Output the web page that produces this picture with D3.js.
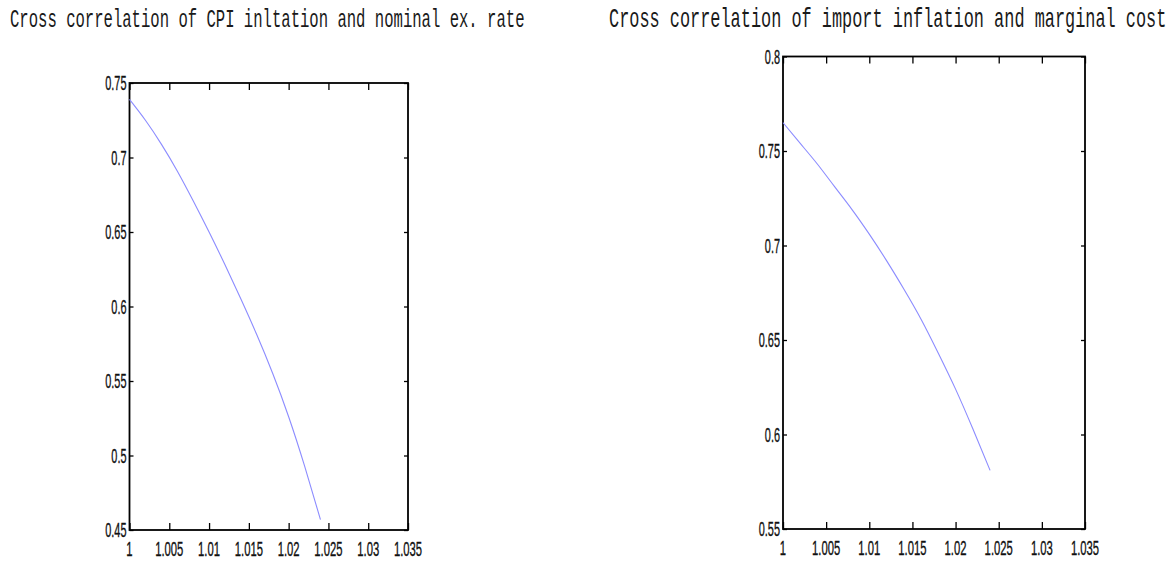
<!DOCTYPE html>
<html>
<head>
<meta charset="utf-8">
<script src="https://cdn.jsdelivr.net/npm/d3@7"></script>
<style>
  html, body { margin: 0; padding: 0; background: #fff; }
  svg { display: block; }
</style>
</head>
<body>
<svg id="chart" width="1170" height="561"></svg>
<script>
// ---- data ----
const xValues = [1.000, 1.002, 1.004, 1.006, 1.008, 1.010, 1.012, 1.014, 1.016, 1.018, 1.020, 1.022, 1.024];
const cpiFxCorr = [0.739, 0.725, 0.709, 0.691, 0.671, 0.650, 0.628, 0.605, 0.581, 0.555, 0.526, 0.493, 0.457];
const importMcCorr = [0.765, 0.754, 0.743, 0.731, 0.719, 0.706, 0.692, 0.677, 0.661, 0.643, 0.624, 0.603, 0.581];
const xTicks = [1, 1.005, 1.01, 1.015, 1.02, 1.025, 1.03, 1.035];
const xTickLabels = ["1", "1.005", "1.01", "1.015", "1.02", "1.025", "1.03", "1.035"];
const leftYTicks = [0.45, 0.5, 0.55, 0.6, 0.65, 0.7, 0.75];
const leftYTickLabels = ["0.45", "0.5", "0.55", "0.6", "0.65", "0.7", "0.75"];
const rightYTicks = [0.55, 0.6, 0.65, 0.7, 0.75, 0.8];
const rightYTickLabels = ["0.55", "0.6", "0.65", "0.7", "0.75", "0.8"];
const titles = ["Cross correlation of CPI inltation and nominal ex. rate",
                "Cross correlation of import inflation and marginal cost"];

const svg = d3.select("#chart");

function panel(cfg) {
  const x = d3.scaleLinear().domain([1, 1.035]).range([cfg.left, cfg.right]);
  const y = d3.scaleLinear().domain(cfg.yDomain).range([cfg.bottom, cfg.top]);
  const g = svg.append("g");

  // title
  g.append("text")
    .attr("transform", `translate(${cfg.titleX},${cfg.titleY}) scale(1,1.6)`)
    .attr("font-family", "'Liberation Mono', 'Courier New', monospace")
    .attr("font-size", cfg.titleSize)
    .attr("fill", "#1a1a1a")
    .text(cfg.title);

  // ticks (inward) on all four sides
  const tickStyle = sel => { sel.select(".domain").remove(); sel.selectAll("line").attr("stroke", "#000").attr("stroke-width", 1.3); sel.selectAll("text").remove(); };
  g.append("g").attr("transform", `translate(0,${cfg.bottom})`)
    .call(d3.axisBottom(x).tickValues(xTicks).tickSize(-7).tickSizeOuter(0)).call(tickStyle);
  g.append("g").attr("transform", `translate(0,${cfg.top})`)
    .call(d3.axisTop(x).tickValues(xTicks).tickSize(-7).tickSizeOuter(0)).call(tickStyle);
  g.append("g").attr("transform", `translate(${cfg.left},0)`)
    .call(d3.axisLeft(y).tickValues(cfg.yTicks).tickSize(-4).tickSizeOuter(0)).call(tickStyle);
  g.append("g").attr("transform", `translate(${cfg.right},0)`)
    .call(d3.axisRight(y).tickValues(cfg.yTicks).tickSize(-4).tickSizeOuter(0)).call(tickStyle);

  // frame
  g.append("rect")
    .attr("x", x.range()[0]).attr("y", y.range()[1])
    .attr("width", x.range()[1] - x.range()[0])
    .attr("height", y.range()[0] - y.range()[1])
    .attr("fill", "none").attr("stroke", "#000").attr("stroke-width", 1.8);

  // tick labels
  g.selectAll(".xl").data(xTicks).join("text")
    .attr("transform", (d) => `translate(${x(d)},${cfg.bottom + 26}) scale(0.55,1)`)
    .attr("text-anchor", "middle")
    .attr("font-family", "'Liberation Sans', Arial, sans-serif")
    .attr("font-size", 20.5)
    .attr("stroke", "#111").attr("stroke-width", 0.35)
    .attr("fill", "#111")
    .text((d, i) => xTickLabels[i]);
  g.selectAll(".yl").data(cfg.yTicks).join("text")
    .attr("transform", (d) => `translate(${cfg.left - 3},${y(d) + 7}) scale(0.56,1)`)
    .attr("text-anchor", "end")
    .attr("font-family", "'Liberation Sans', Arial, sans-serif")
    .attr("font-size", 19.5)
    .attr("stroke", "#111").attr("stroke-width", 0.35)
    .attr("fill", "#111")
    .text((d, i) => cfg.yLabels[i]);

  // line
  const line = d3.line().x((d, i) => x(xValues[i])).y(d => y(d)).curve(d3.curveNatural);
  g.append("path").datum(cfg.values)
    .attr("d", line)
    .attr("fill", "none")
    .attr("stroke", "#8c8cff")
    .attr("stroke-width", 1.1);
}

panel({
  left: 129.5, right: 408, top: 83, bottom: 530,
  yDomain: [0.45, 0.75], yTicks: leftYTicks, yLabels: leftYTickLabels,
  values: cpiFxCorr, title: titles[0], titleX: 10, titleY: 27, titleSize: 15.6
});
panel({
  left: 783, right: 1085, top: 56.5, bottom: 529,
  yDomain: [0.55, 0.8], yTicks: rightYTicks, yLabels: rightYTickLabels,
  values: importMcCorr, title: titles[1], titleX: 609, titleY: 27, titleSize: 16.9
});
</script>
</body>
</html>
